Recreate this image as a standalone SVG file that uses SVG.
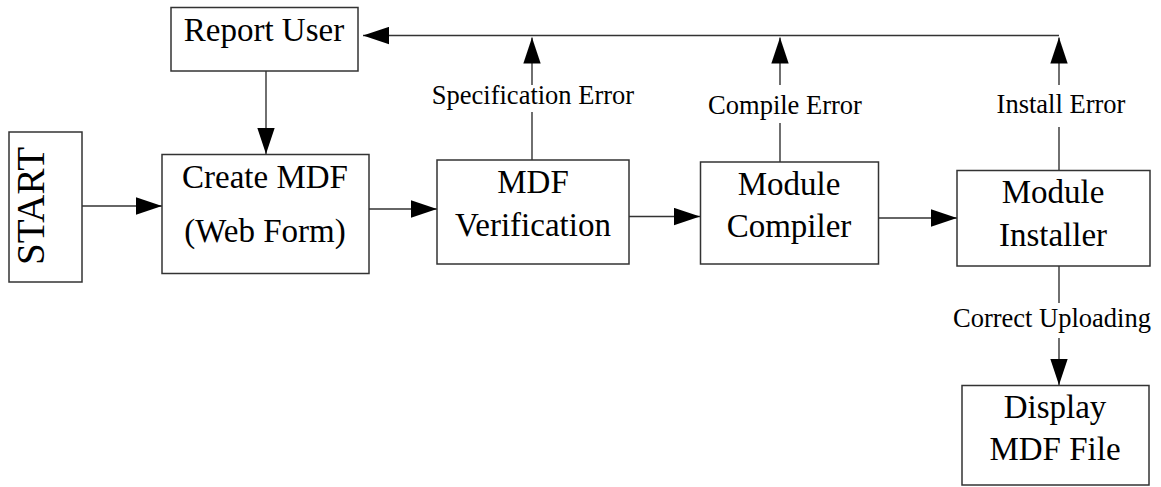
<svg xmlns="http://www.w3.org/2000/svg" width="1161" height="487" viewBox="0 0 1161 487">
<defs>
<style>
.box{fill:#fff;stroke:#333;stroke-width:1.5}
.t{font-family:"Liberation Serif","Times New Roman",serif;font-size:33px;fill:#000;text-anchor:middle}
.l{font-family:"Liberation Serif","Times New Roman",serif;font-size:26.5px;fill:#000;text-anchor:middle}
.c{fill:none;stroke:#333;stroke-width:1.4}
</style>
<marker id="ah" markerUnits="userSpaceOnUse" markerWidth="26" markerHeight="18" viewBox="0 0 24 16" refX="24" refY="8" orient="auto">
<polygon points="0,0 24,8 0,16" fill="#000"/>
</marker>
</defs>
<rect width="1161" height="487" fill="#fff"/>
<g id="connectors">
<line class="c" x1="82" y1="206" x2="162" y2="206" marker-end="url(#ah)"/>
<line class="c" x1="266" y1="71" x2="266" y2="154" marker-end="url(#ah)"/>
<line class="c" x1="369" y1="209" x2="437" y2="209" marker-end="url(#ah)"/>
<line class="c" x1="629" y1="216.5" x2="700" y2="216.5" marker-end="url(#ah)"/>
<line class="c" x1="879" y1="218" x2="957" y2="218" marker-end="url(#ah)"/>
<line class="c" x1="532" y1="160" x2="532" y2="112"/>
<line class="c" x1="532" y1="85" x2="532" y2="37.5" marker-end="url(#ah)"/>
<line class="c" x1="780" y1="162" x2="780" y2="123"/>
<line class="c" x1="780" y1="85" x2="780" y2="37.5" marker-end="url(#ah)"/>
<line class="c" x1="1059" y1="170.5" x2="1059" y2="127"/>
<line class="c" x1="1059" y1="85" x2="1059" y2="37.5" marker-end="url(#ah)"/>
<line class="c" x1="1059" y1="35.5" x2="363" y2="35.5" marker-end="url(#ah)"/>
<line class="c" x1="1059" y1="266" x2="1059" y2="303"/>
<line class="c" x1="1059" y1="338" x2="1059" y2="385" marker-end="url(#ah)"/>
<text class="l" x="533" y="104">Specification Error</text>
<text class="l" x="785" y="114">Compile Error</text>
<text class="l" x="1061" y="113">Install Error</text>
<text class="l" x="1052" y="327">Correct Uploading</text>
</g>
<g id="start">
<rect class="box" x="9" y="132" width="73" height="150"/>
<text class="t" style="font-size:39px" transform="translate(44,206) rotate(-90)">START</text>
</g>
<g id="report-user">
<rect class="box" x="171" y="7.5" width="187" height="63.5"/>
<text class="t" x="264" y="41">Report User</text>
</g>
<g id="create-mdf">
<rect class="box" x="162" y="154.5" width="207" height="119"/>
<text class="t" x="265" y="188">Create MDF</text>
<text class="t" x="265" y="242">(Web Form)</text>
</g>
<g id="mdf-verification">
<rect class="box" x="437" y="160" width="192" height="104"/>
<text class="t" x="533" y="193">MDF</text>
<text class="t" x="533" y="236">Verification</text>
</g>
<g id="module-compiler">
<rect class="box" x="700.5" y="162" width="178" height="102"/>
<text class="t" x="789" y="195">Module</text>
<text class="t" x="789" y="237">Compiler</text>
</g>
<g id="module-installer">
<rect class="box" x="957" y="170.5" width="193" height="95.5"/>
<text class="t" x="1053" y="203">Module</text>
<text class="t" x="1053" y="246">Installer</text>
</g>
<g id="display-mdf-file">
<rect class="box" x="962" y="385.5" width="187" height="99.5"/>
<text class="t" x="1055" y="418">Display</text>
<text class="t" x="1055" y="460">MDF File</text>
</g>
</svg>
